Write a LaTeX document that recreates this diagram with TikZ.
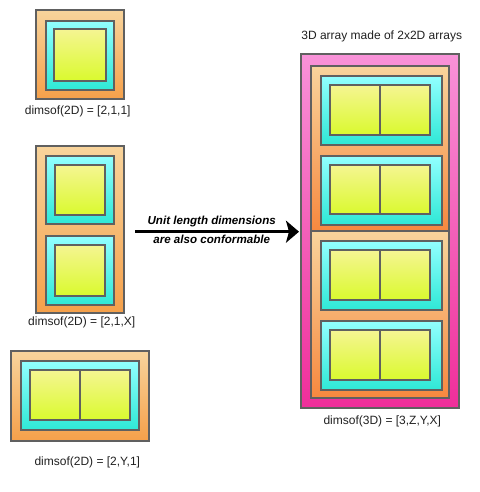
\documentclass[tikz,border=0pt]{standalone}
\usepackage{fontspec}
\setmainfont{Liberation Sans}
\usetikzlibrary{fit,arrows.meta}
\definecolor{edge}{HTML}{606060}
\definecolor{orT}{HTML}{F8D49C}
\definecolor{orB}{HTML}{F5A04A}
\definecolor{cyT}{HTML}{92FFFF}
\definecolor{cyB}{HTML}{2FE8D6}
\definecolor{yeT}{HTML}{F5F592}
\definecolor{yeB}{HTML}{DAFA2E}
\definecolor{piT}{HTML}{F892D8}
\definecolor{piB}{HTML}{EF2E9A}
\definecolor{txt}{HTML}{202020}
\tikzset{
  bx/.style={draw=edge, line width=2pt, inner sep=0pt, outer sep=0pt, rectangle},
  obox/.style={bx, top color=orT, bottom color=orB},
  cbox/.style={bx, top color=cyT, bottom color=cyB},
  ybox/.style={bx, top color=yeT, bottom color=yeB},
  pbox/.style={bx, top color=piT, bottom color=piB},
  lbl/.style={font=\fontsize{12}{14}\selectfont, text=txt, inner sep=0pt},
  atxt/.style={font=\fontsize{11.6}{14}\selectfont\bfseries\itshape, text=black, inner sep=0pt},
  divl/.style={draw=edge, line width=2pt}
}
\begin{document}
\begin{tikzpicture}[x=1pt,y=-1pt]
\useasboundingbox (0,0) rectangle (479,492);
% Box A
\node[obox, fit={(35.7,10) (124,99)}] (ao) {};
\node[cbox, fit={(45.7,20.7) (114,90)}] (ac) {};
\node[ybox, fit={(54.3,29.3) (105.7,80.7)}] (ay) {};
\node[lbl] (al) at (77.7,111) {dimsof(2D) = [2,1,1]};
% Box B
\node[obox, fit={(35.7,145.7) (124,312.7)}] (bo) {};
\node[cbox, fit={(45.7,155.7) (114,224.3)}] (bc1) {};
\node[ybox, fit={(54.7,164.7) (105.3,215.3)}] (by1) {};
\node[cbox, fit={(45.7,236) (114,305.3)}] (bc2) {};
\node[ybox, fit={(54.7,245) (105.3,295.7)}] (by2) {};
\node[lbl] (bl) at (81.7,322.7) {dimsof(2D) = [2,1,X]};
% Box C
\node[obox, fit={(11,351) (149,441)}] (co) {};
\node[cbox, fit={(21,360.7) (139.3,430)}] (cc) {};
\node[ybox, fit={(30,369.7) (130,420)}] (cy) {};
\draw[divl] (cy.north) -- (cy.south);
\node[lbl] (cl) at (87.3,462.7) {dimsof(2D) = [2,Y,1]};
% Arrow
\coordinate (as) at (135,231.7);
\coordinate (ae) at (299,231.7);
\draw[line width=3pt, -{Stealth[length=13pt,width=22pt,inset=3pt]}] (as) -- (ae);
\node[atxt] (t1) at (211.7,221.7) {Unit length dimensions};
\node[atxt] (t2) at (211.7,239.8) {are also conformable};
% Right 3D
\node[lbl] (rt) at (381.7,36.7) {3D array made of 2x2D arrays};
\node[pbox, fit={(301,54.3) (459,407.7)}] (rp) {};
\node[obox, bottom color=orB!85!red, fit={(311,65.7) (449,231)}] (ro1) {};
\node[obox, bottom color=orB!85!red, fit={(311,231) (449,397.7)}] (ro2) {};
\node[cbox, fit={(320.7,75.7) (441.7,145)}] (rc1) {};
\node[ybox, fit={(330,85) (430,135)}] (ry1) {};
\draw[divl] (ry1.north) -- (ry1.south);
\node[cbox, fit={(320.7,155.7) (441.7,224.7)}] (rc2) {};
\node[ybox, fit={(330,164.7) (430,214.3)}] (ry2) {};
\draw[divl] (ry2.north) -- (ry2.south);
\node[cbox, fit={(320.7,241) (441.7,310)}] (rc3) {};
\node[ybox, fit={(330,250.3) (430,300)}] (ry3) {};
\draw[divl] (ry3.north) -- (ry3.south);
\node[cbox, fit={(320.7,320.7) (441.7,390)}] (rc4) {};
\node[ybox, fit={(330,330.3) (430,380)}] (ry4) {};
\draw[divl] (ry4.north) -- (ry4.south);
\node[lbl] (rl) at (382.3,421.7) {dimsof(3D) = [3,Z,Y,X]};
\end{tikzpicture}
\end{document}
